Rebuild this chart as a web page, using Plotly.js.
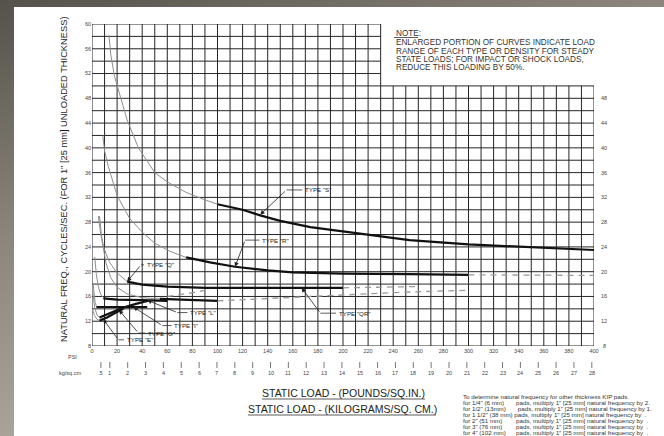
<!DOCTYPE html>
<html><head><meta charset="utf-8">
<script src="https://cdn.plot.ly/plotly-3.0.1.min.js"></script>
<style>
html,body{margin:0;padding:0;}
body{width:664px;height:436px;overflow:hidden;background:linear-gradient(160deg,#55514b 0%,#8b857a 35%,#a9a398 65%,#7c766c 100%);}
#chart{width:664px;height:436px;}
</style></head><body>
<div id="chart"></div>
<script>
// ---- tick data ----
const psiTicks = [0,20,40,60,80,100,120,140,160,180,200,220,240,260,280,300,320,340,360,380,400];
const kgTicks = [0.5,1,2,3,4,5,6,7,8,9,10,11,12,13,14,15,16,17,18,19,20,21,22,23,24,25,26,27,28];
const kgLabels = ['.5','1','2','3','4','5','6','7','8','9','10','11','12','13','14','15','16','17','18','19','20','21','22','23','24','25','26','27','28'];
const hzLeft = [8,12,16,20,24,28,32,36,40,44,48,52,56,60];
const hzRight = [8,12,16,20,24,28,32,36,40,44,48];
const PSI_PER_KG = 14.223;

// ---- curve data (psi, Hz) ----
const sThinX = [13.5,15,18,23,28,37,50,60,75,90,100];
const sThinY = [58.2,55,51.5,47.8,44.5,40,36,34.5,32.8,31.6,30.9];
const sThickX = [100,120,134,150,174,200,214,253,300,350,400];
const sThickY = [30.9,30.0,29.1,28.2,27.2,26.5,26.2,25.1,24.4,23.9,23.5];

const rThinX = [8.6,10,13,15.5,20,30,40,50,62,75];
const rThinY = [42,39.5,37,35.3,32.3,28.6,26.4,24.6,23.3,22.3];
const rThickX = [75,94,114,140,160,200,253,300];
const rThickY = [22.3,21.5,20.8,20.2,19.9,19.7,19.6,19.5];
const rDashX = [300,400];
const rDashY = [19.5,19.4];

const qThinX = [5,7,10,14,20,28];
const qThinY = [29,26,23.5,21.5,19.8,18.4];
const qThickX = [28,40,60,91,130,200];
const qThickY = [18.4,17.9,17.6,17.4,17.4,17.4];
const qDashX = [200,260];
const qDashY = [17.4,17.6];

const qrThinX = [6,8,11,15,20,28,40,54];
const qrThinY = [29,25,21.5,19,17.5,16.4,15.8,15.6];
const qrThickX = [54,80,100];
const qrThickY = [15.6,15.4,15.3];
const qrDashX = [100,150,200,250,300];
const qrDashY = [15.3,15.8,16.3,16.7,17.0];

const lThinX = [2.2,3.5,5,7,9];
const lThinY = [22.4,19.5,17.6,16.3,15.8];
const lThickX = [9,20,40,60];
const lThickY = [15.7,15.5,15.4,15.3];
const lDashX = [60,80,95];
const lDashY = [16.0,16.6,17.2];

const iThinX = [0.8,1.5,2.5,3.5];
const iThinY = [18.2,16.5,15.0,14.4];
const iThickX = [3.5,15,30,44];
const iThickY = [14.3,14.3,14.3,14.3];

const gThinX = [0.5,2,4,6];
const gThinY = [17,14.3,13,12.6];
const gThickX = [6,15,25,35,45];
const gThickY = [12.6,13.4,14.2,14.8,15.3];

const eThinX = [0.3,2,4,6];
const eThinY = [14,12.9,12.3,12.1];
const eThickX = [6,12,18,25];
const eThickY = [12.1,12.6,13.3,14.0];

// ---- helpers ----
const THIN = {color:'#8e8e8e', width:1};
const THICK = {color:'#111', width:2.2};
const DASH = {color:'#9a9a9a', width:1.3, dash:'6px,5px'};
function tr(x,y,line){return {x:x,y:y,type:'scatter',mode:'lines',line:line,hoverinfo:'skip',showlegend:false,cliponaxis:false};}
const traces = [
  tr(sThinX,sThinY,THIN), tr(sThickX,sThickY,THICK),
  tr(rThinX,rThinY,THIN), tr(rThickX,rThickY,THICK), tr(rDashX,rDashY,DASH),
  tr(qThinX,qThinY,THIN), tr(qThickX,qThickY,THICK), tr(qDashX,qDashY,DASH),
  tr(qrThinX,qrThinY,THIN), tr(qrThickX,qrThickY,THICK), tr(qrDashX,qrDashY,DASH),
  tr(lThinX,lThinY,THIN), tr(lThickX,lThickY,THICK), tr(lDashX,lDashY,DASH),
  tr(iThinX,iThinY,THIN), tr(iThickX,iThickY,THICK),
  tr(gThinX,gThinY,THIN), tr(gThickX,gThickY,THICK),
  tr(eThinX,eThinY,THIN), tr(eThickX,eThickY,THICK)
];

// ---- layout geometry ----
const W=664,H=436,L=92,R=70,T=24,B=90;
const pw=W-L-R, ph=H-T-B;
const px2x = p => (p-L)/pw;      // pixel -> paper
const py2y = p => (H-B-p)/ph;

const shapes = [];
// white page
shapes.push({type:'rect',xref:'paper',yref:'paper',x0:px2x(14),x1:px2x(668),y0:py2y(440),y1:py2y(7),fillcolor:'#ffffff',line:{width:0},layer:'below'});
// grid
const GRID={color:'#262626',width:1};
for(let p=0;p<=400;p+=10){
  shapes.push({type:'line',xref:'x',yref:'y',x0:p,x1:p,y0:8,y1:(p<=230?60:50),line:GRID,layer:'below'});
}
for(let h=8;h<=60;h+=2){
  shapes.push({type:'line',xref:'x',yref:'y',x0:0,x1:(h<=50?400:230),y0:h,y1:h,line:GRID,layer:'below'});
}
// kg tick marks
kgTicks.forEach(k=>{
  shapes.push({type:'line',xref:'x',yref:'paper',x0:k*PSI_PER_KG,x1:k*PSI_PER_KG,y0:py2y(362),y1:py2y(368),line:{color:'#555',width:0.8}});
});
// underlines for titles
function uline(x0,x1,y){shapes.push({type:'line',xref:'paper',yref:'paper',x0:px2x(x0),x1:px2x(x1),y0:py2y(y),y1:py2y(y),line:{color:'#333',width:0.8}});}
uline(262,425,399); uline(248,436,415);
uline(394,418,37.5);

const FONT = 'Liberation Sans, Arial, sans-serif';
const ann = [];
function txt(x,y,text,size,opts){ann.push(Object.assign({xref:'paper',yref:'paper',x:px2x(x),y:py2y(y),text:text,showarrow:false,font:{family:FONT,size:size,color:'#333'},xanchor:'left',yanchor:'middle'},opts||{}));}
// kg labels
kgTicks.forEach((k,i)=>{
  ann.push({xref:'x',yref:'paper',x:k*PSI_PER_KG,y:py2y(373),text:kgLabels[i],showarrow:false,font:{family:FONT,size:5.5,color:'#444'},xanchor:'center',yanchor:'middle'});
});
txt(72,356.5,'PSI',5.5,{xanchor:'center',font:{family:FONT,size:5.5,color:'#444'}});
txt(70,373,'kg/sq.cm',5.5,{xanchor:'center',font:{family:FONT,size:5.5,color:'#444'}});
// right axis labels
hzRight.forEach(h=>{
  ann.push({xref:'paper',yref:'y',x:px2x(604),y:h,text:String(h),showarrow:false,font:{family:FONT,size:5.5,color:'#444'},xanchor:'center',yanchor:'middle'});
});
// titles
txt(343,393,'STATIC LOAD - (POUNDS/SQ.IN.)',10.5,{xanchor:'center',font:{family:FONT,size:10.5,color:'#222'}});
txt(342,409,'STATIC LOAD - (KILOGRAMS/SQ. CM.)',10.5,{xanchor:'center',font:{family:FONT,size:10.5,color:'#222'}});
// y title
ann.push({xref:'paper',yref:'paper',x:px2x(64),y:py2y(180),text:'NATURAL FREQ., CYCLES/SEC. (FOR 1" [25 mm] UNLOADED THICKNESS)',textangle:-90,showarrow:false,font:{family:FONT,size:9.3,color:'#1e1e1e'},xanchor:'center',yanchor:'middle'});
// note
const NF = 8.2;
txt(394,33,'NOTE:',NF);
txt(394,42.7,'ENLARGED PORTION OF CURVES INDICATE LOAD',NF);
txt(394,51,'RANGE OF EACH TYPE OR DENSITY FOR STEADY',NF);
txt(394,59.3,'STATE LOADS; FOR IMPACT OR SHOCK LOADS,',NF);
txt(394,67.7,'REDUCE THIS LOADING BY 50%.',NF);
// bottom-right note
const brLines = [
 'To determine natural frequency for other thickness KIP pads.',
 'for 1/4" (6 mm)       pads, multiply 1" [25 mm] natural frequency by 2.',
 'for 1/2" (13mm)       pads, multiply 1" [25 mm] natural frequency by 1.',
 'for 1 1/2" (38 mm) pads, multiply 1" [25 mm] natural frequency by  .',
 'for 2" (51 mm)        pads, multiply 1" [25 mm] natural frequency by  .',
 'for 3" (76 mm)        pads, multiply 1" [25 mm] natural frequency by  .',
 'for 4" (102 mm)      pads, multiply 1" [25 mm] natural frequency by  .'
];
brLines.forEach((s,i)=>txt(461,397+i*5.9,s,6.2,{font:{family:FONT,size:6.2,color:'#333'}}));

// curve labels with leaders
const leaders = [
  {t:'TYPE "S"', lx:168, ly:33.2, ex:155, tx:134, ty:29.2},
  {t:'TYPE "R"', lx:134, ly:25.1, ex:122, tx:114, ty:20.8},
  {t:'TYPE "Q"', lx:42, ly:21.1, ex:39, tx:28, ty:18.4},
  {t:'TYPE "QR"', lx:195, ly:13.3, ex:182, tx:167, ty:17.4},
  {t:'TYPE "L"', lx:76.5, ly:13.4, ex:68, tx:44, ty:15.4},
  {t:'TYPE "I"', lx:64, ly:11.3, ex:56, tx:33, ty:14.3},
  {t:'TYPE "G"', lx:43, ly:10.1, ex:37, tx:21.5, ty:13.8},
  {t:'TYPE "E"', lx:26, ly:9.0, ex:21, tx:9, ty:12.3}
];
leaders.forEach(d=>{
  ann.push({xref:'x',yref:'y',x:d.lx,y:d.ly,text:d.t,showarrow:false,font:{family:FONT,size:6.2,color:'#222'},xanchor:'left',yanchor:'middle'});
  shapes.push({type:'line',xref:'x',yref:'y',x0:d.lx-0.5,x1:d.ex,y0:d.ly,y1:d.ly,line:{color:'#333',width:0.8}});
  ann.push({xref:'x',yref:'y',axref:'x',ayref:'y',x:d.tx,y:d.ty,ax:d.ex,ay:d.ly,text:'',showarrow:true,arrowhead:2,arrowsize:1.1,arrowwidth:0.8,arrowcolor:'#222'});
});

const layout = {
  width:W,height:H,margin:{l:L,r:R,t:T,b:B,pad:0},
  paper_bgcolor:'rgba(0,0,0,0)',plot_bgcolor:'rgba(0,0,0,0)',
  showlegend:false,
  xaxis:{range:[0,400],tickvals:psiTicks,ticktext:psiTicks.map(String),showgrid:false,zeroline:false,showline:false,ticks:'',ticklen:0,
    tickfont:{family:FONT,size:5.5,color:'#444'},fixedrange:true},
  yaxis:{range:[8,60],tickvals:hzLeft,ticktext:hzLeft.map(String),showgrid:false,zeroline:false,showline:false,ticks:'',
    tickfont:{family:FONT,size:5.5,color:'#444'},fixedrange:true},
  shapes:shapes, annotations:ann
};
Plotly.newPlot('chart',traces,layout,{displayModeBar:false,staticPlot:true});
</script></body></html>
